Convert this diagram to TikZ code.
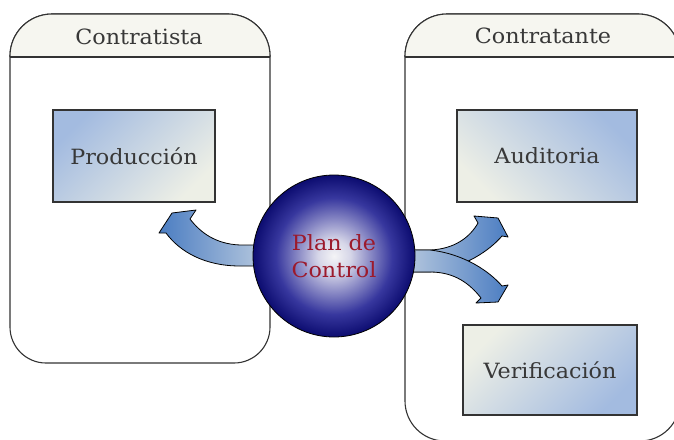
\documentclass[tikz,border=0pt]{standalone}
\usepackage{fontspec}
\setmainfont{DejaVu Serif}[FakeStretch=1.06]
\usetikzlibrary{shadings}

\definecolor{edge}{HTML}{333333}
\definecolor{headfill}{HTML}{F6F6F0}
\definecolor{boxblue}{HTML}{A3BBE0}
\definecolor{boxlight}{HTML}{EDEFE6}
\definecolor{arrowlight}{HTML}{C6D3E2}
\definecolor{arrowblue}{HTML}{4B7DC2}
\definecolor{plantext}{HTML}{9C1A2C}
\definecolor{labeltext}{HTML}{383838}

% ball shading for the central node (edge of the circle sits at 25bp)
\pgfdeclareradialshading{ballnavy}{\pgfpoint{0bp}{0bp}}{%
  color(0bp)=(rgb,255:red,244;green,244;blue,246);
  color(5bp)=(rgb,255:red,214;green,214;blue,232);
  color(11bp)=(rgb,255:red,140;green,140;blue,198);
  color(18bp)=(rgb,255:red,55;green,55;blue,158);
  color(25bp)=(rgb,255:red,12;green,12;blue,112);
  color(50bp)=(rgb,255:red,12;green,12;blue,112)}

\tikzset{
  lane/.style={draw=edge, line width=1.1pt, fill=white},
  lanehead/.style={fill=headfill},
  lanetitle/.style={font=\fontsize{21}{24}\selectfont, text=labeltext},
  task/.style={draw=edge, line width=1.1pt, minimum width=162pt, minimum height=92pt,
    inner sep=0pt, font=\fontsize{21}{24}\selectfont, text=labeltext},
  flow/.style={draw=black, line width=0.8pt, line join=round},
}

\begin{document}
\begin{tikzpicture}[x=1pt, y=-1pt]
\useasboundingbox (0,0) rectangle (674,439);
\clip (0,0) rectangle (674,439);

% swimlane: Contratista
\draw[lane] (10,150) [rounded corners=42] -- (10,14) -- (270,14) -- (270,150)
  [rounded corners=36] -- (270,363) -- (10,363) -- cycle;
\fill[lanehead, rounded corners=42] (10,57) -- (10,14) -- (270,14) -- (270,57);
\draw[edge, line width=1.1pt, rounded corners=42] (10,57) -- (10,14) -- (270,14) -- (270,57);
\draw[edge, line width=1.1pt] (10,57) -- (270,57);
\node[lanetitle] (tContratista) at (139,37) {Contratista};

% swimlane: Contratante
\draw[lane] (405,150) [rounded corners=42] -- (405,14) -- (680,14) -- (680,150)
  [rounded corners=40] -- (680,441) -- (405,441) -- cycle;
\fill[lanehead, rounded corners=42] (405,57) -- (405,14) -- (680,14) -- (680,57);
\draw[edge, line width=1.1pt, rounded corners=42] (405,57) -- (405,14) -- (680,14) -- (680,57);
\draw[edge, line width=1.1pt] (405,57) -- (680,57);
\node[lanetitle] (tContratante) at (543,36) {Contratante};

% tasks
\node[task, top color=boxblue, bottom color=boxlight, shading angle=45]
  (produccion) at (134,156) {Producción};
\node[task, top color=boxblue, bottom color=boxlight, shading angle=-45,
  minimum width=180pt]
  (auditoria) at (547,156) {Auditoria};
\node[task, top color=boxlight, bottom color=boxblue, shading angle=45,
  minimum width=174pt, minimum height=90pt]
  (verificacion) at (550,370) {Verificación};

% curved block arrows leaving the plan
\draw[flow, left color=arrowblue, right color=arrowlight]
  (280,245) -- (240,245) .. controls (215,244) and (200,232) .. (190,219)
  -- (196,210) -- (172,213) -- (159,233) -- (166,233)
  .. controls (180,252) and (205,266) .. (240,266) -- (280,266) -- cycle;

\draw[flow, left color=arrowlight, right color=arrowblue]
  (390,250) -- (430,250) .. controls (455,249) and (470,237) .. (478,223)
  -- (474,216) -- (498,218) -- (508,237) -- (502,236)
  .. controls (490,250) and (465,268) .. (430,272) -- (390,272) -- cycle;

\draw[flow, left color=arrowlight, right color=arrowblue]
  (390,250) -- (430,250) .. controls (465,254) and (490,272) .. (502,286)
  -- (508,285) -- (498,302) -- (476,303) -- (481,298)
  .. controls (470,284) and (455,272) .. (430,272) -- (390,272) -- cycle;

% central plan
\node[circle, draw=black, line width=0.8pt, minimum size=162pt, inner sep=0pt,
  shading=ballnavy, align=center, text=plantext,
  font=\fontsize{21}{27}\selectfont] (plan) at (334,256) {Plan de\\Control};
\end{tikzpicture}
\end{document}
